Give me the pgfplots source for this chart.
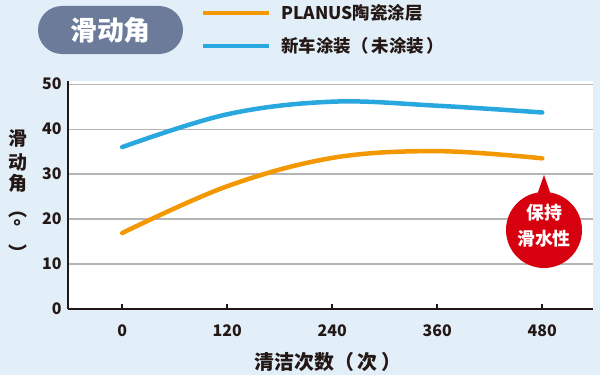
\documentclass[border=0pt]{standalone}
\usepackage{pgfplots}
\pgfplotsset{compat=1.18}
\usepackage{fontspec}
\setmainfont{Noto Sans CJK SC}
\definecolor{bgblue}{RGB}{227,239,248}
\definecolor{pill}{RGB}{108,123,154}
\definecolor{orng}{RGB}{243,152,0}
\definecolor{skyb}{RGB}{41,168,224}
\definecolor{redb}{RGB}{215,0,15}
\definecolor{ink}{RGB}{35,24,21}
\definecolor{gridg}{RGB}{181,181,182}
\begin{document}
\begin{tikzpicture}[x=1bp,y=1bp]
\fill[bgblue] (0,0) rectangle (600,375);
\begin{axis}[
  at={(68bp,66bp)}, anchor=south west,
  scale only axis, width=525bp, height=228bp,
  xmin=-62, xmax=538, ymin=0, ymax=50.7,
  axis background/.style={fill=white},
  axis lines=left,
  axis line style={-, draw=ink, line width=2bp},
  xtick={0,120,240,360,480},
  ytick={0,10,20,30,40,50},
  tick align=inside,
  xtick pos=bottom,
  major tick length=5bp,
  x tick style={draw=ink, line width=2bp},
  y tick style={draw=none},
  ymajorgrids,
  major grid style={draw=gridg, line width=1.2bp},
  /pgf/number format/assume math mode=true,
  ticklabel style={font=\fontsize{16}{16}\selectfont\bfseries, text=ink},
  xticklabel style={yshift=-12bp},
  yticklabel style={xshift=-3bp},
  clip=false,
]
\addplot[orng, line width=4.5bp, line cap=round, smooth, tension=0.6]
  coordinates {(0,16.9) (120,27.3) (240,33.6) (360,35.1) (480,33.5)};
\addplot[skyb, line width=4.5bp, line cap=round, smooth, tension=0.6]
  coordinates {(0,36.0) (120,43.3) (240,46.1) (360,45.2) (480,43.7)};
\end{axis}
% title pill
\fill[pill, rounded corners=24bp] (38,321) rectangle (183,369);
\node[text=white, font=\fontsize{27}{27}\selectfont\bfseries] at (110.5,345) {滑动角};
% legend
\draw[orng, line width=4.5bp] (203,362) -- (269,362);
\draw[skyb, line width=4.5bp] (203,329) -- (269,329);
\node[anchor=west, text=ink, font=\fontsize{17.5}{17.5}\selectfont\bfseries] at (278,362) {PLANUS陶瓷涂层};
\node[anchor=west, text=ink, font=\fontsize{17.5}{17.5}\selectfont\bfseries] at (278,329) {新车涂装（\,未涂装\,）};
% y label
\begin{scope}[every node/.style={text=ink, font=\fontsize{19}{19}\selectfont\bfseries}]
\node at (18,237) {滑};
\node at (18,213) {动};
\node at (18,192) {角};
\node at (18,160) {︵};
\node at (18,148) {°};
\node at (18,122) {︶};
\end{scope}
% x label
\node[text=ink, font=\fontsize{20}{20}\selectfont\bfseries] at (328,13) {清洁次数（\,次\,）};
% red bubble
\fill[redb] (544,145) circle (38);
\fill[redb] (537,180) -- (544,200) -- (551,180) -- cycle;
\node[text=white, font=\fontsize{18}{18}\selectfont\bfseries] at (544,162) {保持};
\node[text=white, font=\fontsize{18}{18}\selectfont\bfseries] at (544,136) {滑水性};
\pgfresetboundingbox
\useasboundingbox (0,0) rectangle (600,375);
\end{tikzpicture}
\end{document}
